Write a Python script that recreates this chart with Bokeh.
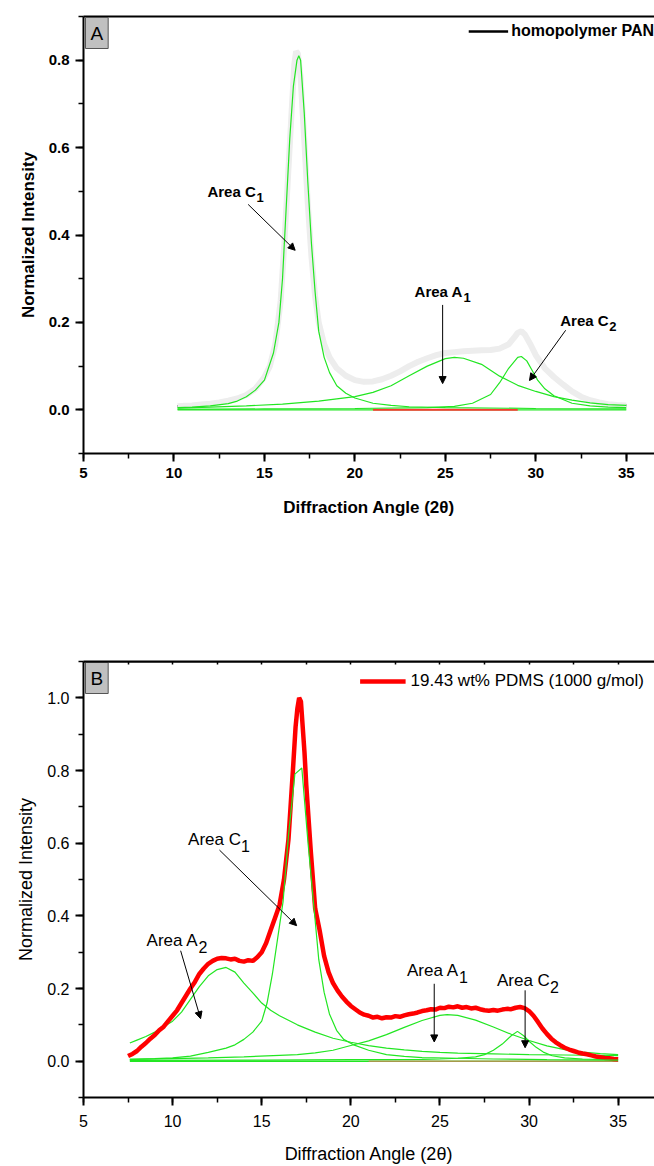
from bokeh.plotting import figure
from bokeh.models import (Range1d, LinearAxis, SingleIntervalTicker, FixedTicker, PrintfTickFormatter,
                          Label, Arrow, NormalHead, Legend, LegendItem, ColumnDataSource, Span)
from bokeh.layouts import column
from bokeh.embed import file_html
from bokeh.resources import INLINE

FONT = "Liberation Sans"

# ---------------- Panel A: homopolymer PAN ----------------
pan_x = [10.2, 10.5, 11, 11.5, 12, 12.5, 13, 13.5, 14, 14.5, 15, 15.3, 15.6, 15.9, 16.1, 16.3,
         16.5, 16.65, 16.75, 16.85, 17.0, 17.2, 17.4, 17.6, 17.8, 18.0, 18.3, 18.6, 19.0, 19.5,
         20.0, 20.5, 21.0, 21.5, 22.0, 22.5, 23.0, 23.5, 24.0, 24.5, 25.0, 25.5, 26.0, 26.5,
         27.0, 27.5, 28.0, 28.5, 28.8, 29.0, 29.2, 29.4, 29.7, 30.0, 30.5, 31.0, 31.5, 32.0,
         32.5, 33.0, 33.5, 34.0, 34.5, 35.0]
pan_y = [0.008, 0.009, 0.010, 0.012, 0.014, 0.017, 0.021, 0.026, 0.034, 0.048, 0.075, 0.10,
         0.15, 0.25, 0.38, 0.53, 0.68, 0.79, 0.82, 0.815, 0.76, 0.62, 0.47, 0.35, 0.26, 0.20,
         0.15, 0.12, 0.095, 0.078, 0.068, 0.064, 0.065, 0.070, 0.078, 0.088, 0.100, 0.110,
         0.118, 0.125, 0.130, 0.132, 0.134, 0.135, 0.136, 0.137, 0.140, 0.150, 0.165, 0.176,
         0.180, 0.172, 0.150, 0.125, 0.095, 0.075, 0.058, 0.042, 0.030, 0.022, 0.017, 0.013,
         0.011, 0.010]

a_c1_x = [10.2, 11, 12, 13, 13.5, 14, 14.5, 15, 15.5, 15.8, 16.0, 16.2, 16.4, 16.6, 16.8, 16.9,
          17.0, 17.2, 17.4, 17.6, 17.8, 18.0, 18.3, 18.6, 19.0, 19.5, 20.0, 21, 22, 23, 25, 30, 35]
a_c1_y = [0.005, 0.006, 0.009, 0.014, 0.020, 0.030, 0.045, 0.068, 0.13, 0.20, 0.30, 0.46, 0.62,
          0.74, 0.80, 0.81, 0.80, 0.68, 0.52, 0.38, 0.27, 0.18, 0.12, 0.085, 0.055, 0.038,
          0.027, 0.015, 0.010, 0.007, 0.005, 0.003, 0.002]

a_a1_x = [10.2, 12, 14, 16, 18, 19, 20, 21, 22, 23, 24, 25, 25.5, 26, 27, 28, 29, 30, 31, 32, 33, 34, 35]
a_a1_y = [0.004, 0.006, 0.009, 0.013, 0.020, 0.025, 0.030, 0.040, 0.055, 0.078, 0.100, 0.117,
          0.120, 0.118, 0.104, 0.077, 0.056, 0.042, 0.030, 0.022, 0.016, 0.012, 0.010]

a_c2_x = [10.2, 15, 20, 24, 25.5, 26.5, 27.5, 28, 28.5, 29.0, 29.2, 29.5, 29.8, 30.1, 30.5, 31, 32, 33, 34, 35]
a_c2_y = [0.001, 0.002, 0.003, 0.005, 0.008, 0.015, 0.035, 0.062, 0.095, 0.120, 0.122, 0.112,
          0.090, 0.068, 0.048, 0.032, 0.015, 0.009, 0.006, 0.005]

a_base_x = [10.2, 35]
a_base_y = [0.0, 0.0]
a_red_x = [21.0, 29.0]
a_red_y = [0.0, 0.0]

a_ann_main = ["Area C", "Area A", "Area C"]
a_ann_sub = ["1", "1", "2"]
a_ann_x = [11.85, 23.3, 31.35]
a_ann_y = [0.50, 0.27, 0.205]
a_arr_x0 = [14.1, 24.85, 31.65]
a_arr_y0 = [0.47, 0.24, 0.182]
a_arr_x1 = [16.7, 24.85, 29.65]
a_arr_y1 = [0.365, 0.06, 0.067]

# ---------------- Panel B: 19.43 wt% PDMS ----------------
pdms_x = [7.5, 7.75, 8.0, 8.25, 8.5, 8.75, 9.0, 9.25, 9.5, 9.75, 10.0, 10.25, 10.5, 10.75, 11.0,
          11.25, 11.5, 11.75, 12.0, 12.25, 12.5, 12.75, 13.0, 13.25, 13.5, 13.75, 14.0, 14.25,
          14.5, 14.75, 15.0, 15.25, 15.5, 15.75, 16.0, 16.25, 16.5, 16.75, 16.9, 17.0, 17.1,
          17.2, 17.3, 17.4, 17.5, 17.75, 18.0, 18.25, 18.5, 18.75, 19.0, 19.25, 19.5, 19.75,
          20.0, 20.25, 20.5, 20.75, 21.0, 21.25, 21.5, 21.75, 22.0, 22.25, 22.5, 22.75, 23.0,
          23.25, 23.5, 23.75, 24.0, 24.25, 24.5, 24.75, 25.0, 25.25, 25.5, 25.75, 26.0, 26.25,
          26.5, 26.75, 27.0, 27.25, 27.5, 27.75, 28.0, 28.25, 28.5, 28.75, 29.0, 29.25, 29.5,
          29.75, 30.0, 30.25, 30.5, 30.75, 31.0, 31.25, 31.5, 31.75, 32.0, 32.25, 32.5, 32.75,
          33.0, 33.25, 33.5, 33.75, 34.0, 34.25, 34.5, 34.75, 35.0]
pdms_y = [0.014, 0.020, 0.028, 0.040, 0.050, 0.062, 0.072, 0.085, 0.095, 0.110, 0.125, 0.140,
          0.160, 0.180, 0.200, 0.218, 0.240, 0.255, 0.268, 0.276, 0.282, 0.284, 0.283, 0.280,
          0.282, 0.276, 0.274, 0.278, 0.276, 0.286, 0.300, 0.325, 0.360, 0.395, 0.430, 0.500,
          0.610, 0.800, 0.920, 0.970, 1.000, 0.990, 0.920, 0.850, 0.760, 0.580, 0.420, 0.360,
          0.290, 0.245, 0.215, 0.195, 0.178, 0.164, 0.152, 0.143, 0.134, 0.128, 0.125, 0.120,
          0.122, 0.118, 0.121, 0.120, 0.124, 0.122, 0.126, 0.129, 0.131, 0.134, 0.138, 0.140,
          0.143, 0.142, 0.147, 0.146, 0.150, 0.148, 0.151, 0.147, 0.149, 0.145, 0.147, 0.143,
          0.140, 0.139, 0.141, 0.139, 0.142, 0.144, 0.143, 0.147, 0.149, 0.146, 0.138, 0.125,
          0.108, 0.090, 0.075, 0.062, 0.052, 0.044, 0.037, 0.032, 0.028, 0.024, 0.021, 0.019,
          0.016, 0.013, 0.011, 0.009, 0.008, 0.006, 0.005]

b_a2_x = [7.6, 8, 8.5, 9, 9.5, 10, 10.5, 11, 11.5, 12, 12.5, 13.0, 13.5, 14.0, 14.5, 15.0, 15.5,
          16.0, 17.0, 18.0, 19.0, 20.0, 21.0, 22.0, 23.0, 24.0, 25.0, 26.0, 28.0, 30.0, 32.0, 35.0]
b_a2_y = [0.050, 0.058, 0.068, 0.080, 0.095, 0.110, 0.135, 0.170, 0.205, 0.235, 0.252, 0.258,
          0.245, 0.215, 0.188, 0.160, 0.140, 0.125, 0.100, 0.080, 0.063, 0.052, 0.043, 0.036,
          0.031, 0.027, 0.024, 0.022, 0.020, 0.018, 0.017, 0.015]

b_c1_x = [7.6, 9, 10, 11, 12, 13, 13.5, 14, 14.5, 15, 15.3, 15.6, 15.9, 16.2, 16.5, 16.86, 17.25,
          17.6, 17.9, 18.2, 18.5, 18.8, 19.2, 19.6, 20.2, 21, 22, 23, 24, 26, 28, 31, 35]
b_c1_y = [0.005, 0.007, 0.009, 0.014, 0.024, 0.036, 0.045, 0.060, 0.080, 0.110, 0.160, 0.240,
          0.340, 0.440, 0.620, 0.790, 0.807, 0.600, 0.440, 0.280, 0.190, 0.130, 0.085, 0.060,
          0.044, 0.030, 0.018, 0.013, 0.010, 0.008, 0.006, 0.004, 0.003]

b_a1_x = [7.6, 10, 12, 14, 16, 17, 18, 19, 20, 21, 22, 23, 24, 25, 25.4, 26, 27, 28, 29, 30, 31, 32, 33, 34, 35]
b_a1_y = [0.005, 0.007, 0.009, 0.012, 0.016, 0.018, 0.023, 0.030, 0.043, 0.056, 0.073, 0.093,
          0.112, 0.126, 0.128, 0.126, 0.113, 0.094, 0.074, 0.057, 0.042, 0.032, 0.025, 0.021, 0.018]

b_c2_x = [7.6, 15, 20, 24, 25, 26, 27, 27.5, 28, 28.5, 29, 29.35, 29.7, 30.0, 30.4, 30.8, 31.3, 32, 33, 35]
b_c2_y = [0.002, 0.003, 0.004, 0.005, 0.006, 0.008, 0.012, 0.018, 0.030, 0.047, 0.070, 0.082,
          0.070, 0.055, 0.038, 0.025, 0.015, 0.009, 0.006, 0.004]

b_base_x = [7.6, 35]
b_base_y = [0.0, 0.0]
b_red_x = [21.0, 35.0]
b_red_y = [0.0, 0.0]

b_ann_main = ["Area C", "Area A", "Area A", "Area C"]
b_ann_sub = ["1", "2", "1", "2"]
b_ann_x = [10.87, 8.54, 23.15, 28.2]
b_ann_y = [0.61, 0.331, 0.249, 0.222]
b_arr_x0 = [12.63, 10.45, 24.68, 29.78]
b_arr_y0 = [0.581, 0.304, 0.213, 0.195]
b_arr_x1 = [16.96, 11.57, 24.68, 29.78]
b_arr_y1 = [0.373, 0.117, 0.053, 0.037]

top_minor_ticks = [7.5, 10, 12.5, 15, 17.5, 20, 22.5, 25, 27.5, 30, 32.5, 35]

GREEN = "#22e622"


def make_fig(height, xr, yr, top, bottom, bold, tick_fs, title_fs, lab_stand, xstand, top_ticks):
    style = "bold" if bold else "normal"
    p = figure(width=654, height=height, x_range=Range1d(*xr), y_range=Range1d(*yr),
               output_backend="svg", toolbar_location=None,
               min_border_left=83, min_border_right=0, min_border_top=top,
               min_border_bottom=bottom,
               x_axis_label="Diffraction Angle (2θ)", y_axis_label="Normalized Intensity")
    p.outline_line_color = None
    p.grid.visible = False
    p.background_fill_color = "white"
    p.border_fill_color = "white"
    p.xaxis.ticker = SingleIntervalTicker(interval=5, num_minor_ticks=2)
    p.yaxis.ticker = SingleIntervalTicker(interval=0.2, num_minor_ticks=2)
    p.yaxis.formatter = PrintfTickFormatter(format="%.1f")
    for ax in (p.xaxis[0], p.yaxis[0]):
        ax.axis_line_width = 2
        ax.axis_line_color = "black"
        ax.major_tick_line_width = 2
        ax.minor_tick_line_width = 1.5
        ax.major_tick_out = 8
        ax.major_tick_in = 0
        ax.minor_tick_out = 5
        ax.minor_tick_in = 0
        ax.major_label_text_font = FONT
        ax.major_label_text_font_style = style
        ax.major_label_text_font_size = f"{tick_fs}px"
        ax.major_label_text_color = "black"
        ax.major_label_standoff = 6
        ax.axis_label_text_font = FONT
        ax.axis_label_text_font_style = style
        ax.axis_label_text_font_size = f"{title_fs}px"
        ax.axis_label_text_color = "black"
    p.xaxis[0].major_label_standoff = lab_stand
    p.xaxis[0].axis_label_standoff = xstand
    p.yaxis[0].axis_label_standoff = 8
    minors = top_minor_ticks if top_ticks else []
    top_ax = LinearAxis(ticker=FixedTicker(ticks=[], minor_ticks=minors),
                        axis_line_width=2, axis_line_color="black",
                        major_tick_in=0, major_tick_out=0,
                        minor_tick_in=3, minor_tick_out=0,
                        minor_tick_line_width=1.5, minor_tick_line_color="black",
                        major_label_standoff=0)
    p.add_layout(top_ax, "above")
    return p


def add_annotations(p, mains, subs, xs, ys, x0, y0, x1, y1, bold, fs, sfs, sub_dx, sub_dy):
    style = "bold" if bold else "normal"
    for m, s, x, y, dx in zip(mains, subs, xs, ys, sub_dx):
        p.add_layout(Label(x=x, y=y, text=m, text_font=FONT, text_font_style=style,
                           text_font_size=f"{fs}px", text_baseline="middle", text_align="left",
                           text_color="black"))
        p.add_layout(Label(x=x, y=y, text=s, x_offset=dx, y_offset=sub_dy, text_font=FONT,
                           text_font_style=style, text_font_size=f"{sfs}px",
                           text_baseline="middle", text_align="left", text_color="black"))
    src = ColumnDataSource(dict(x0=x0, y0=y0, x1=x1, y1=y1))
    p.add_layout(Arrow(x_start="x0", y_start="y0", x_end="x1", y_end="y1", source=src,
                       line_color="black", line_width=1,
                       end=NormalHead(size=7, fill_color="black", line_color="black", line_width=1)))


def add_box_label(p, text, x, y, fs):
    p.add_layout(Label(x=x, y=y, text=text, text_font=FONT, text_font_size=f"{fs}px",
                       text_baseline="top", text_align="left", text_color="black",
                       x_offset=2, y_offset=-1, padding=5,
                       background_fill_color="#c0c0c0", background_fill_alpha=1.0,
                       border_line_color="#555555", border_line_width=1))


# ---- Figure A ----
pA = make_fig(550, (5, 36.56), (-0.1, 0.9), 16, 97, True, 15, 17, 6, 17, False)
# black data line used for the legend key; the light gray trace drawn on top hides it
legA_r = pA.line(pan_x, pan_y, line_color="black", line_width=2.5)
pA.line(pan_x, pan_y, line_color="#ededed", line_width=6)
pA.line(a_base_x, a_base_y, line_color=GREEN, line_width=1.2)
pA.line(a_red_x, a_red_y, line_color="#ff3333", line_width=2)
pA.line(a_c1_x, a_c1_y, line_color=GREEN, line_width=1.2)
pA.line(a_a1_x, a_a1_y, line_color=GREEN, line_width=1.2)
pA.line(a_c2_x, a_c2_y, line_color=GREEN, line_width=1.2)
legA = Legend(items=[LegendItem(label="homopolymer PAN", renderers=[legA_r])],
              location="top_right", margin=0, padding=3, glyph_width=40, label_standoff=3,
              label_height=30, glyph_height=30,
              border_line_color=None, background_fill_alpha=0,
              label_text_font=FONT, label_text_font_style="bold", label_text_font_size="16px",
              label_text_color="black")
pA.add_layout(legA)
add_annotations(pA, a_ann_main, a_ann_sub, a_ann_x, a_ann_y, a_arr_x0, a_arr_y0, a_arr_x1,
                a_arr_y1, True, 15, 13, [49, 49, 49], -6)
add_box_label(pA, "A", 5.0, 0.9, 19)

# ---- Figure B ----
pB = make_fig(616, (5, 37.04), (-0.1, 1.1), 111, 67, False, 16, 18, 9, 14, True)
pB.line(b_base_x, b_base_y, line_color=GREEN, line_width=1.5)
pB.line(b_red_x, b_red_y, line_color="#ff6666", line_width=1.5, line_alpha=0.6)
pB.line(b_a2_x, b_a2_y, line_color=GREEN, line_width=1.2)
pB.line(b_a1_x, b_a1_y, line_color=GREEN, line_width=1.2)
pB.line(b_c2_x, b_c2_y, line_color=GREEN, line_width=1.2)
redB = pB.line(pdms_x, pdms_y, line_color="#ff0000", line_width=4.5)
pB.line(b_c1_x, b_c1_y, line_color=GREEN, line_width=1.2)
legB = Legend(items=[LegendItem(label="19.43 wt% PDMS (1000 g/mol)", renderers=[redB])],
              location="top_right", margin=10, padding=0, glyph_width=46, label_standoff=5,
              label_height=20, glyph_height=20,
              border_line_color=None, background_fill_alpha=0,
              label_text_font=FONT, label_text_font_size="17px", label_text_color="black")
pB.add_layout(legB)
add_annotations(pB, b_ann_main, b_ann_sub, b_ann_x, b_ann_y, b_arr_x0, b_arr_y0, b_arr_x1,
                b_arr_y1, False, 17, 16, [53, 52, 52, 53], -6)
add_box_label(pB, "B", 5.0, 1.1, 19)
# top frame edge of panel B drawn as a span over everything
pB.add_layout(Span(location=1.1, dimension="width", line_color="black", line_width=2))

layout = column(pA, pB, spacing=0)
open("out.html", "w").write(file_html(layout, INLINE))
